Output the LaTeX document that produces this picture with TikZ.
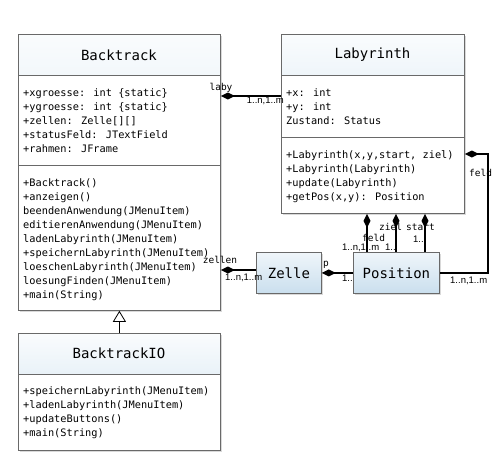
\documentclass[tikz,border=0pt]{standalone}
\usepackage{fontspec}
\newfontfamily\umlmono{DejaVu Sans Mono}
\newfontfamily\umlsans{Liberation Sans}
\usetikzlibrary{arrows.meta,shadows}
\definecolor{titleblue}{RGB}{202,223,238}
\definecolor{framegray}{RGB}{105,105,105}
\tikzset{
  classbox/.style={draw=framegray, line width=0.8pt, fill=white, inner sep=0pt, anchor=north west,
    drop shadow={shadow xshift=1.5pt, shadow yshift=-1.5pt, opacity=0.3}},
  titled/.style={path picture={\shade[top color=titleblue!10, bottom color=titleblue]
    (path picture bounding box.north west) rectangle ([yshift=-#1]path picture bounding box.north east);}},
  smallbox/.style={classbox, top color=titleblue!30, bottom color=titleblue,
    font=\umlmono\fontsize{14}{16}\selectfont},
  divider/.style={draw=framegray, line width=0.8pt},
  member/.style={font=\umlmono\fontsize{10.3}{12}\selectfont, anchor=base west, inner sep=0pt},
  classtitle/.style={font=\umlmono\fontsize{14}{16}\selectfont, inner sep=0pt},
  role/.style={font=\umlmono\fontsize{9.5}{11}\selectfont, inner sep=0pt, anchor=base west},
  mult/.style={font=\umlsans\fontsize{9.5}{11}\selectfont, inner sep=0pt, anchor=base west},
  comp/.style={line width=1.8pt, {Diamond[length=14pt,width=7pt]}-},
  gen/.style={line width=0.8pt, -{Triangle[open,length=11pt,width=13pt,line width=0.8pt]}}
}
\begin{document}
\begin{tikzpicture}[x=1pt,y=-1pt]
\useasboundingbox (0,0) rectangle (504,453);

% ---- class boxes ----
\node[classbox, titled=41pt, minimum width=202pt, minimum height=276pt] (bt) at (18,34) {};
\node[classbox, titled=41pt, minimum width=183pt, minimum height=179pt] (lab) at (281,34) {};
\node[classbox, titled=41pt, minimum width=202pt, minimum height=117pt] (btio) at (18,333) {};
\node[smallbox, minimum width=65pt, minimum height=41pt] (zelle) at (256,252) {Zelle};
\node[smallbox, minimum width=86pt, minimum height=41pt] (pos) at (353,252) {Position};

% dividers
\draw[divider] (18,75) -- (220,75);
\draw[divider] (18,165) -- (220,165);
\draw[divider] (281,75) -- (464,75);
\draw[divider] (281,137) -- (464,137);
\draw[divider] (18,374) -- (220,374);

% titles
\node[classtitle] (btt) at (119,55) {Backtrack};
\node[classtitle] (labt) at (372.5,55) {Labyrinth};
\node[classtitle] (btiot) at (119,353) {BacktrackIO};

% Backtrack members
\foreach \t [count=\i from 0] in {{+xgroesse: int \{static\}},{+ygroesse: int \{static\}},{+zellen: Zelle[][]},{+statusFeld: JTextField},{+rahmen: JFrame}}
  \node[member, name=bta\i] at (23,96+14*\i) {\t};
\foreach \t [count=\i from 0] in {{+Backtrack()},{+anzeigen()},{beendenAnwendung(JMenuItem)},{editierenAnwendung(JMenuItem)},{ladenLabyrinth(JMenuItem)},{+speichernLabyrinth(JMenuItem)},{loeschenLabyrinth(JMenuItem)},{loesungFinden(JMenuItem)},{+main(String)}}
  \node[member, name=btm\i] at (23,186+14*\i) {\t};

% Labyrinth members
\foreach \t [count=\i from 0] in {{+x: int},{+y: int},{Zustand: Status}}
  \node[member, name=laba\i] at (286,96+14*\i) {\t};
\foreach \t [count=\i from 0] in {{+Labyrinth(x,y,start, ziel)},{+Labyrinth(Labyrinth)},{+update(Labyrinth)},{+getPos(x,y): Position}}
  \node[member, name=labm\i] at (286,158+14*\i) {\t};

% BacktrackIO members
\foreach \t [count=\i from 0] in {{+speichernLabyrinth(JMenuItem)},{+ladenLabyrinth(JMenuItem)},{+updateButtons()},{+main(String)}}
  \node[member, name=btiom\i] at (23,394+14*\i) {\t};

% ---- connectors ----
\draw[gen] (btio.north) -- (bt.south);
\draw[comp] (bt.east |- 0,96) -- (lab.west |- 0,96);
\draw[comp] (bt.east |- 0,270) -- (zelle.west |- 0,270);
\draw[comp] (zelle.east) -- (pos.west);
\foreach \x in {367,396,425}
  \draw[comp] (lab.south -| \x,0) -- (pos.north -| \x,0);
\draw[comp] (lab.east |- 0,154) -- ++(23,0) |- (pos.east);

% ---- labels ----
\node[role, anchor=base] (l1) at (221,90) {laby};
\node[mult, anchor=base east] (m1) at (284,103) {1..n,1..m};
\node[role, anchor=base] (l2) at (220,263) {zellen};
\node[mult] (m2) at (225,280) {1..n,1..m};
\node[role] (l3) at (323,266) {p};
\node[mult] (m3) at (342,281) {1..};
\node[role] (l4) at (362,241) {feld};
\node[mult] (m4) at (342,250) {1..n,1..m};
\node[role] (l5) at (379,230) {ziel};
\node[mult] (m5) at (385,250) {1..};
\node[role] (l6) at (406,230) {start};
\node[mult] (m6) at (413,242) {1..};
\node[role] (l7) at (469,176) {feld};
\node[mult] (m7) at (450,283) {1..n,1..m};
\end{tikzpicture}
\end{document}
